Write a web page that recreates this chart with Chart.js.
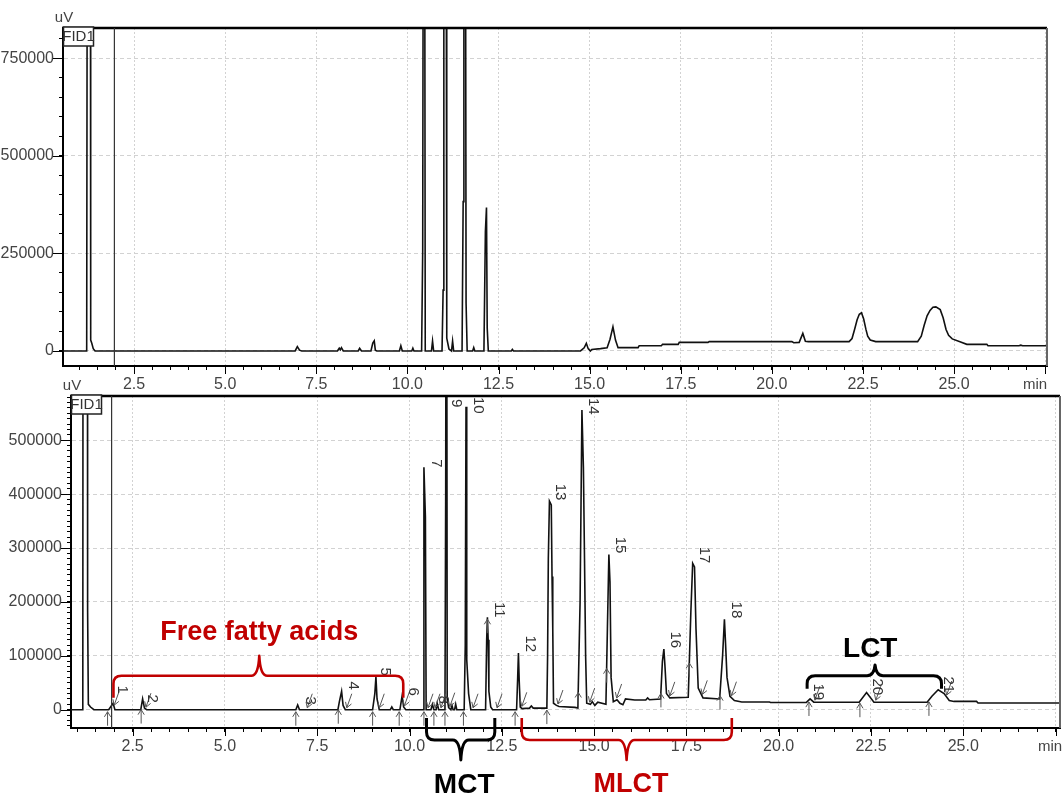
<!DOCTYPE html>
<html>
<head>
<meta charset="utf-8">
<script src="https://cdn.jsdelivr.net/npm/chart.js@4.4.1/dist/chart.umd.min.js"></script>
<style>
  body { margin: 0; background: #fff; width: 1062px; height: 803px; overflow: hidden; position: relative; }
  canvas { position: absolute; left: 0; }
  #topChart { top: 0; }
  #bottomChart { top: 380px; }
</style>
</head>
<body>
<canvas id="topChart" width="1062" height="400"></canvas>
<canvas id="bottomChart" width="1062" height="423"></canvas>
<script>
// --- top chromatogram (time in min, signal in uV) ---
const topTime = [
  0.55, 1.20, 1.22, 1.30, 1.31, 1.34, 1.38, 1.43,
  6.92, 6.98, 7.04, 7.10, 8.08, 8.13, 8.16, 8.19, 8.24, 8.65, 8.69, 8.74,
  9.00, 9.05, 9.09, 9.12, 9.16, 9.78, 9.82, 9.86, 10.12, 10.15, 10.18,
  10.39, 10.42, 10.44, 10.47, 10.49, 10.66, 10.69, 10.72,
  10.95, 10.98, 11.00, 11.06, 11.08, 11.14, 11.21, 11.24, 11.27,
  11.50, 11.53, 11.55, 11.59, 11.61, 11.64, 11.79, 11.82, 11.85,
  12.10, 12.14, 12.17, 12.19, 12.22, 12.85, 12.88, 12.91,
  14.75, 14.85, 14.91, 14.96, 15.02, 15.06, 15.30, 15.48, 15.56, 15.64, 15.71, 15.78,
  16.33, 16.36, 16.97, 17.00, 17.43, 17.46, 18.25, 18.28,
  20.55, 20.60, 20.75, 20.85, 20.92, 21.00,
  22.12, 22.20, 22.27, 22.34, 22.40, 22.46, 22.52, 22.58, 22.63, 22.70, 22.85,
  24.00, 24.10, 24.18, 24.26, 24.34, 24.42, 24.50, 24.62, 24.70, 24.78, 24.85, 24.95, 25.18, 25.35,
  25.90, 25.93, 26.78, 26.83, 26.88, 27.55
];
const topSignal = [
  0, 0, 1500000, 1500000, 28000, 20000, 6000, 0,
  0, 11000, 2000, 0, 0, 7000, 3000, 8500, 0, 0, 7000, 0,
  0, 20000, 26000, 2000, 0, 0, 13600, 0, 0, 7000, 0,
  0, 259000, 1500000, 1500000, 0, 0, 25600, 0,
  0, 156000, 1500000, 1500000, 33000, 5000, 0, 25600, 0,
  0, 383000, 1500000, 1500000, 123000, 0, 0, 8500, 0,
  0, 306000, 368000, 59000, 0, 0, 4000, 0,
  0, 8000, 19700, 6000, 0, 4000, 6000, 8500, 30000, 62000, 28000, 8500,
  8500, 13600, 13600, 17000, 17000, 22000, 22000, 24000,
  24000, 21000, 22000, 45000, 25000, 24000,
  24000, 32000, 55000, 80000, 94000, 98000, 82000, 56000, 38000, 28000, 24000,
  24000, 38000, 66000, 90000, 104000, 112000, 113000, 106000, 85000, 55000, 40000, 31000, 23000, 17000,
  17000, 13600, 13600, 15000, 13600, 13600
];

// --- bottom chromatogram ---
const bottomTime = [
  0.83, 1.15, 1.16, 1.27, 1.28, 1.30, 1.36, 1.45,
  1.85, 1.97, 2.02, 2.72, 2.77, 2.82, 2.88,
  6.92, 6.97, 7.02, 8.06, 8.10, 8.16, 8.20, 8.26,
  9.00, 9.06, 9.09, 9.12, 9.18, 9.48, 9.52, 9.56, 9.74, 9.80, 9.84, 9.90,
  10.37, 10.39, 10.43, 10.45, 10.58, 10.62, 10.66, 10.72, 10.75, 10.79,
  10.96, 10.98, 11.00, 11.02, 11.06, 11.12, 11.15, 11.18, 11.22, 11.25, 11.28,
  11.48, 11.51, 11.53, 11.55, 11.60, 11.66,
  12.06, 12.09, 12.11, 12.13, 12.15, 12.20, 12.25,
  12.90, 12.93, 12.95, 12.97, 13.00, 13.05, 13.25, 13.30, 13.35,
  13.72, 13.74, 13.76, 13.79, 13.84, 13.86, 13.88, 13.90, 13.98, 14.05, 14.48,
  14.56, 14.62, 14.67, 14.71, 14.74, 14.77, 14.80, 14.90, 14.95, 15.02, 15.10,
  15.32, 15.36, 15.40, 15.43, 15.46, 15.52, 15.62, 15.70, 15.78, 15.85, 16.10, 16.40, 16.45, 16.50,
  16.80, 16.85, 16.89, 16.92, 16.96, 17.05,
  17.55, 17.62, 17.67, 17.72, 17.76, 17.82, 17.95,
  18.40, 18.48, 18.53, 18.56, 18.60, 18.68,
  18.80, 19.00, 19.75, 19.78, 20.75, 20.85, 20.95,
  22.18, 22.38, 22.58, 24.02, 24.15, 24.32, 24.48, 24.62, 24.75,
  25.36, 25.40, 27.62
];
const bottomSignal = [
  0, 0, 1500000, 1500000, 185000, 10000, 5000, 0,
  0, 12000, 0, 0, 20000, 3000, 0,
  0, 9000, 0, 0, 15000, 34000, 8000, 0,
  0, 30000, 61000, 20000, 0, 0, 5000, 0, 0, 26000, 5000, 0,
  0, 450000, 358000, 0, 0, 10000, 0, 0, 12000, 0,
  0, 410000, 1500000, 20000, 4000, 0, 8000, 0, 0, 10000, 0,
  0, 120000, 562000, 92600, 30000, 0,
  0, 130000, 171700, 130000, 34000, 5000, 0,
  0, 60000, 105000, 55500, 5000, 2000, 3000, 7000, 3000,
  3000, 100000, 281000, 387000, 380000, 247000, 150000, 12000, 8000, 6000, 4300,
  3000, 200000, 556000, 450000, 280000, 100000, 12000, 10000, 15000, 8000, 14000,
  10000, 150000, 288000, 237600, 60000, 15000, 18500, 12000, 9300, 20000, 18000, 18000, 22000, 18500,
  20000, 90000, 112400, 80000, 30000, 22000,
  23000, 180000, 271700, 265000, 150000, 40000, 22000,
  20000, 100000, 168000, 123500, 60000, 25000,
  17000, 14300, 14300, 13500, 13500, 20000, 14000,
  14000, 32000, 14000, 14000, 25000, 37000, 30000, 17000, 15400,
  15400, 12400, 12400
];

// peak numbers of the bottom trace and where their labels sit
const peakNumbers = ['1','2','3','4','5','6','7','8','9','10','11','12','13','14','15','16','17','18','19','20','21'];
const peakLabelTime = [2.21, 3.02, 7.30, 8.47, 9.33, 10.09, 10.72, 10.91, 11.26, 11.85, 12.42, 13.26, 14.07, 14.97, 15.70, 17.19, 17.98, 18.84, 21.06, 22.66, 24.58];
const peakLabelSignal = [37000, 20400, 16700, 44400, 70400, 33300, 457000, 18500, 568600, 564900, 185200, 122200, 403700, 563000, 305600, 129600, 287000, 185200, 33300, 42600, 46300];
// integration marks (start / end of each peak)
const peakStartTime = [1.82, 2.73, 6.92, 8.07, 9.00, 9.72, 10.39, 10.66, 10.96, 11.46, 12.11, 12.86, 13.72, 14.57, 15.34, 16.81, 17.58, 18.41, 20.82, 22.20, 24.07];
const peakEndTime = [2.00, 2.86, 7.23, 8.30, 9.18, 9.86, 10.50, 10.69, 10.85, 11.09, 11.72, 12.37, 13.04, 14.02, 14.88, 15.61, 17.05, 17.93, 18.72, 20.98, 22.63, 24.55];

const markerTop = 1.96;
const markerBottom = 1.93;

const RED = '#C00000';
const NARROW = "'Liberation Sans Narrow', 'Liberation Sans', Arial, sans-serif";
const BOLD = "'Liberation Sans', Arial, sans-serif";

function valueAt(times, vals, t) {
  for (let i = 1; i < times.length; i++) {
    if (times[i] >= t) {
      if (vals[i] > 200000) return vals[i - 1];
      const f = (t - times[i - 1]) / (times[i] - times[i - 1]);
      return vals[i - 1] + f * (vals[i] - vals[i - 1]);
    }
  }
  return vals[vals.length - 1];
}

function isMultiple(v, step) {
  return Math.abs(v / step - Math.round(v / step)) < 1e-6;
}

// ticks on round multiples of the step, between the axis bounds
function roundTicks(step) {
  return scale => {
    const out = [];
    let v = Math.ceil(scale.min / step - 1e-9) * step;
    while (v <= scale.max + 1e-9) {
      out.push({ value: Math.round(v * 1000) / 1000 });
      v += step;
    }
    scale.ticks = out;
  };
}

function brace(ctx, x1, x2, xm, yLine, yEnd, ySpike, color, width) {
  const dir = yEnd > yLine ? 1 : -1;
  const r = 8;
  ctx.save();
  ctx.strokeStyle = color;
  ctx.lineWidth = width;
  ctx.lineJoin = 'round';
  ctx.beginPath();
  ctx.moveTo(x1, yEnd);
  ctx.lineTo(x1, yLine + dir * r);
  ctx.quadraticCurveTo(x1, yLine, x1 + r, yLine);
  ctx.lineTo(xm - 8, yLine);
  ctx.quadraticCurveTo(xm - 1, yLine, xm, ySpike);
  ctx.quadraticCurveTo(xm + 1, yLine, xm + 8, yLine);
  ctx.lineTo(x2 - r, yLine);
  ctx.quadraticCurveTo(x2, yLine, x2, yLine + dir * r);
  ctx.lineTo(x2, yEnd);
  ctx.stroke();
  ctx.restore();
}

function arrow(ctx, x0, y0, x1, y1) {
  // shaft from (x0,y0) to tip (x1,y1)
  const a = Math.atan2(y1 - y0, x1 - x0);
  ctx.beginPath();
  ctx.moveTo(x0, y0);
  ctx.lineTo(x1, y1);
  ctx.moveTo(x1 - 6 * Math.cos(a - 0.55), y1 - 6 * Math.sin(a - 0.55));
  ctx.lineTo(x1, y1);
  ctx.lineTo(x1 - 6 * Math.cos(a + 0.55), y1 - 6 * Math.sin(a + 0.55));
  ctx.stroke();
}

// shared frame / axis decorations
function frameDeco(chart, cfg) {
  const { ctx, chartArea: a, scales: { x, y } } = chart;
  ctx.save();
  // top and right frame
  ctx.strokeStyle = '#000';
  ctx.lineWidth = 2.5;
  ctx.beginPath();
  ctx.moveTo(a.left - 1, a.top);
  ctx.lineTo(a.right, a.top);
  ctx.stroke();
  ctx.strokeStyle = '#666';
  ctx.lineWidth = 2;
  ctx.beginPath();
  ctx.moveTo(a.right, a.top);
  ctx.lineTo(a.right, a.bottom);
  ctx.stroke();
  // longer major ticks
  ctx.strokeStyle = '#000';
  ctx.lineWidth = 1;
  x.ticks.forEach(t => {
    if (isMultiple(t.value, 2.5)) {
      const px = Math.round(x.getPixelForValue(t.value)) + 0.5;
      ctx.beginPath(); ctx.moveTo(px, a.bottom); ctx.lineTo(px, a.bottom + 8); ctx.stroke();
    }
  });
  y.ticks.forEach(t => {
    if (isMultiple(t.value, cfg.yMajor)) {
      const py = Math.round(y.getPixelForValue(t.value)) + 0.5;
      ctx.beginPath(); ctx.moveTo(a.left - 10, py); ctx.lineTo(a.left, py); ctx.stroke();
    }
  });
  // marker line
  const mx = x.getPixelForValue(cfg.marker);
  ctx.strokeStyle = '#333';
  ctx.lineWidth = 1.2;
  ctx.beginPath(); ctx.moveTo(mx, a.top); ctx.lineTo(mx, a.bottom); ctx.stroke();
  // FID1 box
  ctx.fillStyle = '#fff';
  ctx.fillRect(a.left, a.top - 1, 31, 19);
  ctx.strokeStyle = '#222';
  ctx.lineWidth = 1.5;
  ctx.strokeRect(a.left + 0.5, a.top - 1, 30, 19);
  ctx.fillStyle = '#333';
  ctx.font = '15px ' + NARROW;
  ctx.textAlign = 'center';
  ctx.textBaseline = 'middle';
  ctx.fillText('FID1', a.left + 15.5, a.top + 9);
  // units
  ctx.font = '15px ' + NARROW;
  ctx.fillStyle = '#444';
  ctx.fillText('uV', a.left + 1, a.top - 10);
  ctx.fillText('min', a.right - cfg.minOffset, a.bottom + 19);
  ctx.restore();
}

function makeChart(id, times, signal, cfg) {
  const points = times.map((t, i) => ({ x: t, y: signal[i] }));
  return new Chart(document.getElementById(id), {
    type: 'line',
    data: {
      datasets: [{
        data: points,
        borderColor: '#111',
        borderWidth: 1.6,
        pointRadius: 0,
        tension: 0,
        clip: 0
      }]
    },
    options: {
      responsive: false,
      animation: false,
      events: [],
      layout: { padding: { top: cfg.padTop, right: cfg.padRight, left: 0, bottom: 0 } },
      plugins: { legend: { display: false }, tooltip: { enabled: false } },
      scales: {
        x: {
          type: 'linear',
          min: cfg.xMin,
          max: cfg.xMax,
          afterFit: s => { s.height = cfg.xHeight; },
          afterBuildTicks: roundTicks(0.5),
          ticks: {
            autoSkip: false,
            maxRotation: 0,
            padding: 5,
            color: '#444',
            font: { family: NARROW, size: 16 },
            callback: v => (isMultiple(v, 2.5) && v < 26 ? v.toFixed(1) : '')
          },
          grid: {
            color: c => (c.tick && isMultiple(c.tick.value, 2.5) ? '#d2d2d2' : 'rgba(0,0,0,0)'),
            tickColor: '#000',
            tickLength: 4,
            lineWidth: 1
          },
          border: { color: '#000', width: 2, dash: [2, 2] }
        },
        y: {
          min: cfg.yMin,
          max: cfg.yMax,
          afterFit: s => { s.width = cfg.yWidth; },
          afterBuildTicks: roundTicks(cfg.yMinor),
          ticks: {
            autoSkip: false,
            padding: 5,
            color: '#444',
            font: { family: NARROW, size: 16 },
            callback: v => (isMultiple(v, cfg.yMajor) ? String(Math.abs(v)) : '')
          },
          grid: {
            color: c => (c.tick && isMultiple(c.tick.value, cfg.yMajor) ? '#d2d2d2' : 'rgba(0,0,0,0)'),
            tickColor: '#000',
            tickLength: 4,
            lineWidth: 1
          },
          border: { color: '#000', width: 2, dash: [4, 3] }
        }
      }
    },
    plugins: [{
      id: 'deco',
      afterDraw: chart => {
        frameDeco(chart, cfg);
        if (cfg.extra) cfg.extra(chart);
      }
    }]
  });
}

// bottom chart annotations
function bottomExtras(chart) {
  const { ctx, chartArea: a, scales: { x, y } } = chart;
  ctx.save();
  // integration arrows
  ctx.strokeStyle = '#555';
  ctx.lineWidth = 1;
  peakStartTime.forEach(t => {
    const px = x.getPixelForValue(t);
    const py = y.getPixelForValue(valueAt(bottomTime, bottomSignal, t));
    arrow(ctx, px, py + 16, px, py + 2);
  });
  peakEndTime.forEach(t => {
    const px = x.getPixelForValue(t);
    const py = y.getPixelForValue(valueAt(bottomTime, bottomSignal, t));
    arrow(ctx, px + 5, py - 16, px, py - 2);
  });
  // peak numbers
  ctx.fillStyle = '#333';
  ctx.font = '15px ' + NARROW;
  ctx.textAlign = 'center';
  ctx.textBaseline = 'middle';
  peakNumbers.forEach((n, i) => {
    ctx.save();
    ctx.translate(x.getPixelForValue(peakLabelTime[i]), y.getPixelForValue(peakLabelSignal[i]));
    ctx.rotate(Math.PI / 2);
    ctx.fillText(n, 0, 0);
    ctx.restore();
  });
  // group braces
  const X = v => x.getPixelForValue(v);
  const Y = v => y.getPixelForValue(v);
  brace(ctx, X(1.98), X(9.83), X(5.93), Y(63000), Y(22000), Y(100000), RED, 2.6);
  brace(ctx, X(20.77), X(24.41), X(22.61), Y(63000), Y(39000), Y(83000), '#000', 3);
  brace(ctx, X(10.46), X(12.31), X(11.39), a.bottom + 12, a.bottom - 10, a.bottom + 32, '#000', 3);
  brace(ctx, X(13.04), X(18.73), X(15.88), a.bottom + 12, a.bottom - 10, a.bottom + 32, RED, 2.6);
  ctx.font = 'bold 27px ' + BOLD;
  ctx.fillStyle = RED;
  ctx.fillText('Free fatty acids', X(5.93), Y(142600));
  ctx.fillText('MLCT', X(16.0), a.bottom + 57);
  ctx.fillStyle = '#000';
  ctx.font = 'bold 28px ' + BOLD;
  ctx.fillText('LCT', X(22.48), Y(113000));
  ctx.fillText('MCT', X(11.48), a.bottom + 57);
  ctx.restore();
}

makeChart('topChart', topTime, topSignal, {
  xMin: 0.55, xMax: 27.55, yMin: -38500, yMax: 828000,
  yMajor: 250000, yMinor: 50000,
  padTop: 28, padRight: 15, xHeight: 34, yWidth: 63,
  marker: markerTop, minOffset: 12
});

makeChart('bottomChart', bottomTime, bottomSignal, {
  xMin: 0.83, xMax: 27.62, yMin: -33900, yMax: 582000,
  yMajor: 100000, yMinor: 10000,
  padTop: 16, padRight: 2, xHeight: 75, yWidth: 71,
  marker: markerBottom, minOffset: 10,
  extra: bottomExtras
});
</script>
</body>
</html>
